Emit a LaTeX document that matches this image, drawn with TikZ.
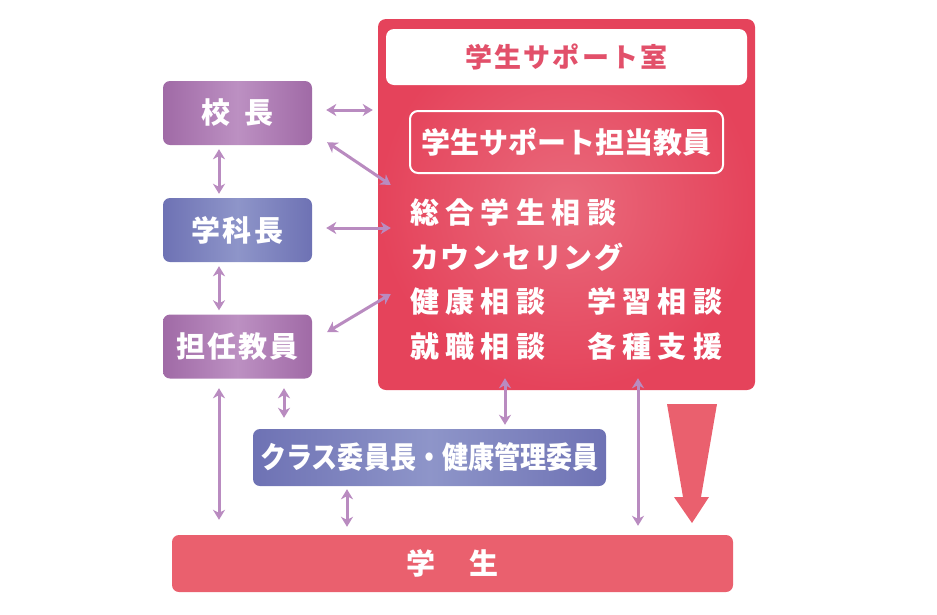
\documentclass[tikz,border=0pt]{standalone}
\usepackage{fontspec}
\usepackage{graphicx}
\setmainfont{Noto Sans CJK JP}
\newfontfamily\jpwide{Noto Sans CJK JP}[LetterSpace=22]
\newfontfamily\jpkana{Noto Sans CJK JP}[LetterSpace=6]
\newfontfamily\jptitle{Noto Sans CJK JP}[LetterSpace=8]
\newfontfamily\jpbox{Noto Sans CJK JP}[LetterSpace=7]
\newfontfamily\jptight{Noto Sans CJK JP}
\usetikzlibrary{arrows.meta,calc}
\definecolor{roomedge}{HTML}{E5435B}
\definecolor{roommid}{HTML}{E96A7C}
\definecolor{titlered}{HTML}{E2506A}
\definecolor{studred}{HTML}{EA606E}
\definecolor{arrowc}{HTML}{B98BC0}
\definecolor{pedge}{HTML}{A06AA6}
\definecolor{pmid}{HTML}{BC90C2}
\definecolor{bedge}{HTML}{6E72B4}
\definecolor{bmid}{HTML}{8E95C9}
\tikzset{
  box/.style={rounded corners=7pt, inner sep=0pt, text=white,
    font=\jpbox\bfseries\fontsize{29pt}{32pt}\selectfont},
  purplebox/.style={box, left color=pedge, right color=pedge, middle color=pmid,
    minimum width=149pt, minimum height=64pt},
  bluebox/.style={box, left color=bedge, right color=bedge, middle color=bmid},
  bodytext/.style={anchor=west, inner sep=0pt, text=white,
    font=\jpwide\bfseries\fontsize{29pt}{32pt}\selectfont},
  kanatext/.style={bodytext, font=\jpkana\bfseries\fontsize{29pt}{32pt}\selectfont},
  dar/.style={draw=arrowc, line width=3pt,
    {Stealth[length=10pt,width=12pt,inset=3pt]}-{Stealth[length=10pt,width=12pt,inset=3pt]}}
}
\begin{document}
\begin{tikzpicture}[x=1pt,y=-1pt]
\useasboundingbox (0,0) rectangle (937,614);
% support room
\node[rounded corners=8pt, minimum width=377pt, minimum height=371pt, inner sep=0pt,
  shading=radial, inner color=roommid, outer color=roomedge] (room) at (566.5,204.5) {};
\node[rounded corners=8pt, fill=white, minimum width=361pt, minimum height=56pt, inner sep=0pt,
  text=titlered, font=\jptitle\bfseries\fontsize{27pt}{30pt}\selectfont] (title) at (566.5,57) {学生サポート室};
\node[rounded corners=8pt, draw=white, line width=2pt, minimum width=313pt, minimum height=62pt,
  inner sep=0pt, text=white, font=\jptight\bfseries\fontsize{29pt}{32pt}\selectfont] (tanto) at (566.5,142) {学生サポート担当教員};
\node[bodytext] (t1) at (410,212) {総合学生相談};
\node[kanatext] (t2) at (410,257) {カウンセリング};
\node[bodytext] (t3) at (410,301) {健康相談　学習相談};
\node[bodytext] (t4) at (410,346) {就職相談　各種支援};
% left boxes
\node[purplebox] (kocho) at (237.5,113) {校\hspace{14pt}長};
\node[bluebox, minimum width=149pt, minimum height=64pt] (gakka) at (237.5,230) {学科長};
\node[purplebox] (tannin) at (237.5,346.5) {担任教員};
\node[bluebox, minimum width=353pt, minimum height=57pt,
  font=\bfseries\fontsize{30pt}{32pt}\selectfont] (class) at (429.5,457.5) {\scalebox{0.87}[1]{クラス委員長・健康管理委員}};
\node[box, fill=studred, minimum width=561pt, minimum height=57pt] (student) at (452.5,563.5) {学　生};
% big arrow
\fill[studred] (667,404) -- (717,404) -- (701,497) -- (709,497) -- (692,523) -- (674,497) -- (683,497) -- cycle;
% connectors
\draw[dar] ([xshift=14pt,yshift=3pt]kocho.east) -- ([xshift=-5pt,yshift=94.5pt]room.west);
\draw[dar] ([xshift=15pt,yshift=3pt]kocho.south east) -- ([xshift=13pt,yshift=19.5pt]room.west);
\draw[dar] ([xshift=14pt,yshift=2pt]gakka.east) -- ([xshift=13pt,yshift=-23.5pt]room.west);
\draw[dar] ([xshift=15pt,yshift=14.5pt]tannin.east) -- ([xshift=13pt,yshift=-89.5pt]room.west);
\draw[dar] ([xshift=-18.5pt,yshift=-4pt]kocho.south) -- ([xshift=-18.5pt,yshift=4pt]gakka.north);
\draw[dar] ([xshift=-18.5pt,yshift=-4pt]gakka.south) -- ([xshift=-18.5pt,yshift=4pt]tannin.north);
\draw[dar] ([xshift=-18.5pt,yshift=-9.5pt]tannin.south) -- ([xshift=-233.5pt,yshift=15pt]student.north);
\draw[dar] ([xshift=46.5pt,yshift=-9.5pt]tannin.south) -- ([xshift=-145.5pt,yshift=11pt]class.north);
\draw[dar] ([xshift=-82.5pt,yshift=-3pt]class.south) -- ([xshift=-105.5pt,yshift=8pt]student.north);
\draw[dar] ([xshift=-61.5pt,yshift=12pt]room.south) -- ([xshift=75.5pt,yshift=4pt]class.north);
\draw[dar] ([xshift=71.5pt,yshift=12pt]room.south) -- ([xshift=185.5pt,yshift=9pt]student.north);
\end{tikzpicture}
\end{document}
